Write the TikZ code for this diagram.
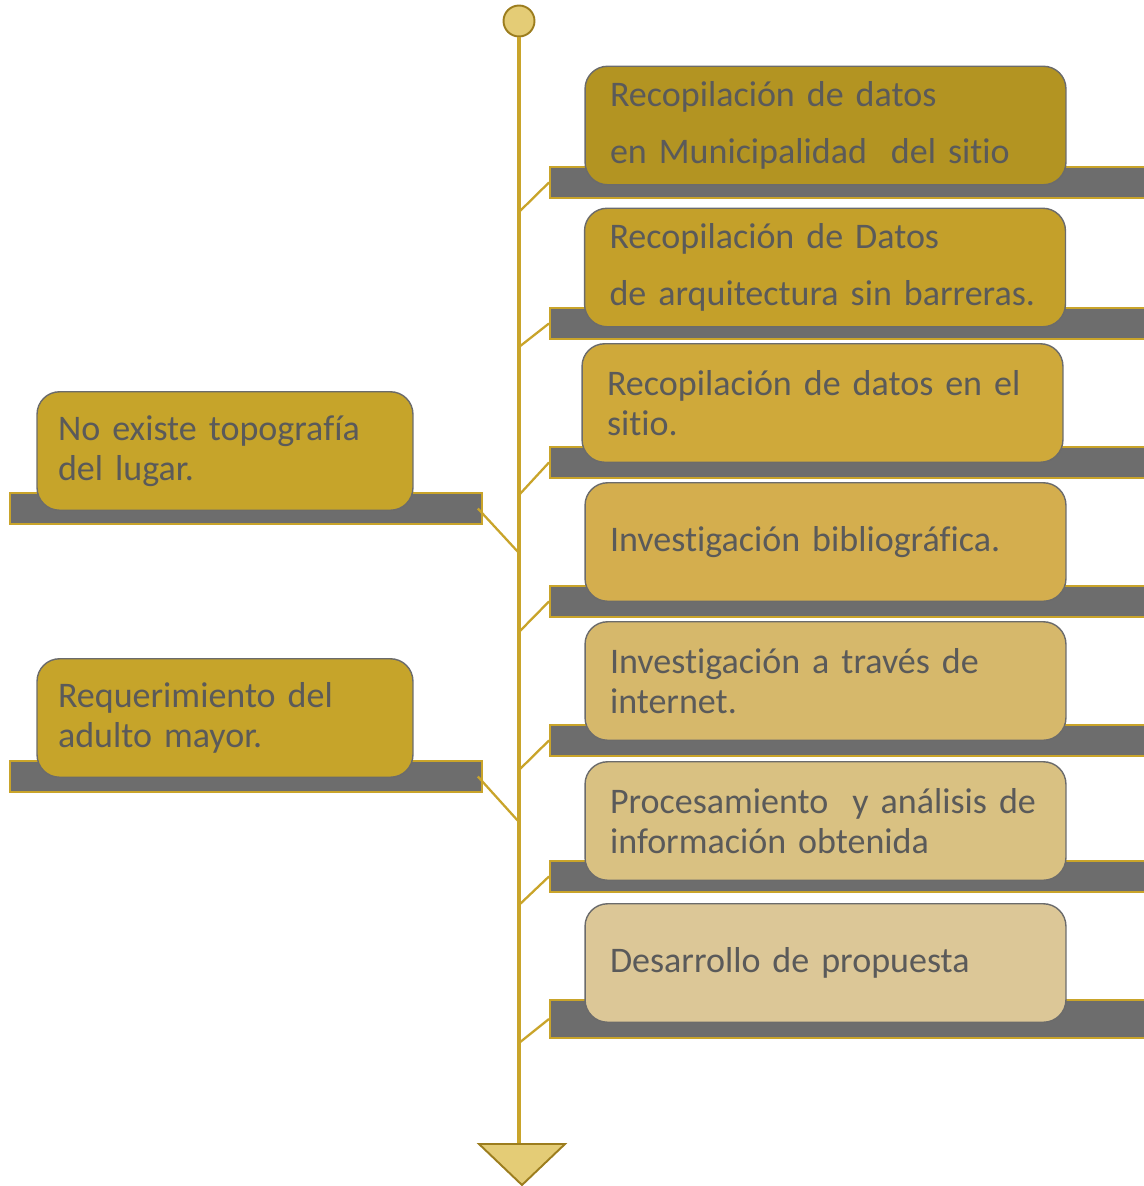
\documentclass[tikz,border=0pt]{standalone}
\usepackage{fontspec}
\setmainfont{Carlito}[Ligatures=NoCommon]
\definecolor{gold}{HTML}{C9A42A}
\definecolor{darkgold}{HTML}{9C7D1E}
\definecolor{pale}{HTML}{E4CC76}
\definecolor{barfill}{HTML}{6D6D6D}
\definecolor{ink}{HTML}{5A5A5A}
\definecolor{edge}{HTML}{6B6B6B}
\definecolor{tone1}{HTML}{B39422}
\definecolor{tone2}{HTML}{C4A02A}
\definecolor{tone3}{HTML}{CFA93A}
\definecolor{tone4}{HTML}{D4AE4E}
\definecolor{tone5}{HTML}{D6B86B}
\definecolor{tone6}{HTML}{D9C182}
\definecolor{tone7}{HTML}{DCC797}
\definecolor{toneL}{HTML}{C6A42A}
\tikzset{
    spine/.style={draw=gold, line width=1.8pt},
    link/.style={draw=gold, line width=1.3pt},
    dot/.style={circle, draw=darkgold, fill=pale, line width=1.1pt, minimum size=0.62cm, inner sep=0pt},
    rbar/.style={rectangle, draw=gold, fill=barfill, line width=1.1pt, minimum width=12cm, minimum height=0.62cm, inner sep=0pt, anchor=north west},
    lbar/.style={rbar, minimum width=9.44cm},
    box/.style={rectangle, rounded corners=0.45cm, draw=edge, line width=0.8pt, text=ink, align=left,
        minimum width=9.62cm, minimum height=2.37cm, text width=8.62cm, inner xsep=0.5cm,
        font=\fontsize{20.5}{22.7}\selectfont},
    wide/.style={font=\fontsize{20.5}{32}\selectfont},
    lbox/.style={box, minimum width=7.52cm, text width=6.68cm, inner xsep=0.42cm, fill=toneL},
}
\begin{document}
\begin{tikzpicture}[x=0.02cm, y=-0.02cm]
    \useasboundingbox (0,0) rectangle (1143,1186);
    % time line
    \node[dot] (top) at (519,21) {};
    \coordinate (end) at (519,1144);
    \draw[spine] (top) -- (end);
    \draw[draw=darkgold, fill=pale, line width=1.1pt] (479,1144) -- (565,1144) -- (522,1185) -- cycle;
    % bars
    \node[rbar] (b1) at (549,166) {};
    \node[rbar] (b2) at (549,307) {};
    \node[rbar] (b3) at (549,446) {};
    \node[rbar] (b4) at (549,585) {};
    \node[rbar] (b5) at (549,724) {};
    \node[rbar] (b6) at (549,860) {};
    \node[rbar, minimum height=0.76cm] (b7) at (549,999) {};
    \node[lbar] (lb1) at (9,492) {};
    \node[lbar] (lb2) at (9,760) {};
    % points on the time line
    \coordinate (s1) at (519,212);
    \coordinate (s2) at (519,347);
    \coordinate (s3) at (519,495);
    \coordinate (s4) at (519,632);
    \coordinate (s5) at (519,770);
    \coordinate (s6) at (519,905);
    \coordinate (s7) at (519,1043);
    \coordinate (t1) at (519,553);
    \coordinate (t2) at (519,822);
    \draw[link] (b1.west) -- (s1);
    \draw[link] (b2.west) -- (s2);
    \draw[link] (b3.west) -- (s3);
    \draw[link] (b4.west) -- (s4);
    \draw[link] (b5.west) -- (s5);
    \draw[link] (b6.west) -- (s6);
    \draw[link] (b7.west) -- (s7);
    \draw[link] ([xshift=-0.1cm]lb1.east) -- (t1);
    \draw[link] ([xshift=-0.1cm]lb2.east) -- (t2);
    % boxes
    \node[box, wide, fill=tone1] (r1) at (825.5,125.5) {Recopilación de datos\\en Municipalidad \ del sitio};
    \node[box, wide, fill=tone2] (r2) at (825,267.5) {Recopilación de Datos\\de arquitectura sin barreras.};
    \node[box, fill=tone3] (r3) at (822.5,403) {Recopilación de datos en el\\sitio.};
    \node[box, fill=tone4] (r4) at (825.5,542) {Investigación bibliográfica.};
    \node[box, fill=tone5] (r5) at (825.5,681) {Investigación a través de\\internet.};
    \node[box, fill=tone6] (r6) at (825.5,821) {Procesamiento \ y análisis de\\información obtenida};
    \node[box, fill=tone7] (r7) at (825.5,963) {Desarrollo de propuesta};
    \node[lbox] (l1) at (225,451) {No existe topografía\\del lugar.};
    \node[lbox] (l2) at (225,718) {Requerimiento del\\adulto mayor.};
\end{tikzpicture}
\end{document}
